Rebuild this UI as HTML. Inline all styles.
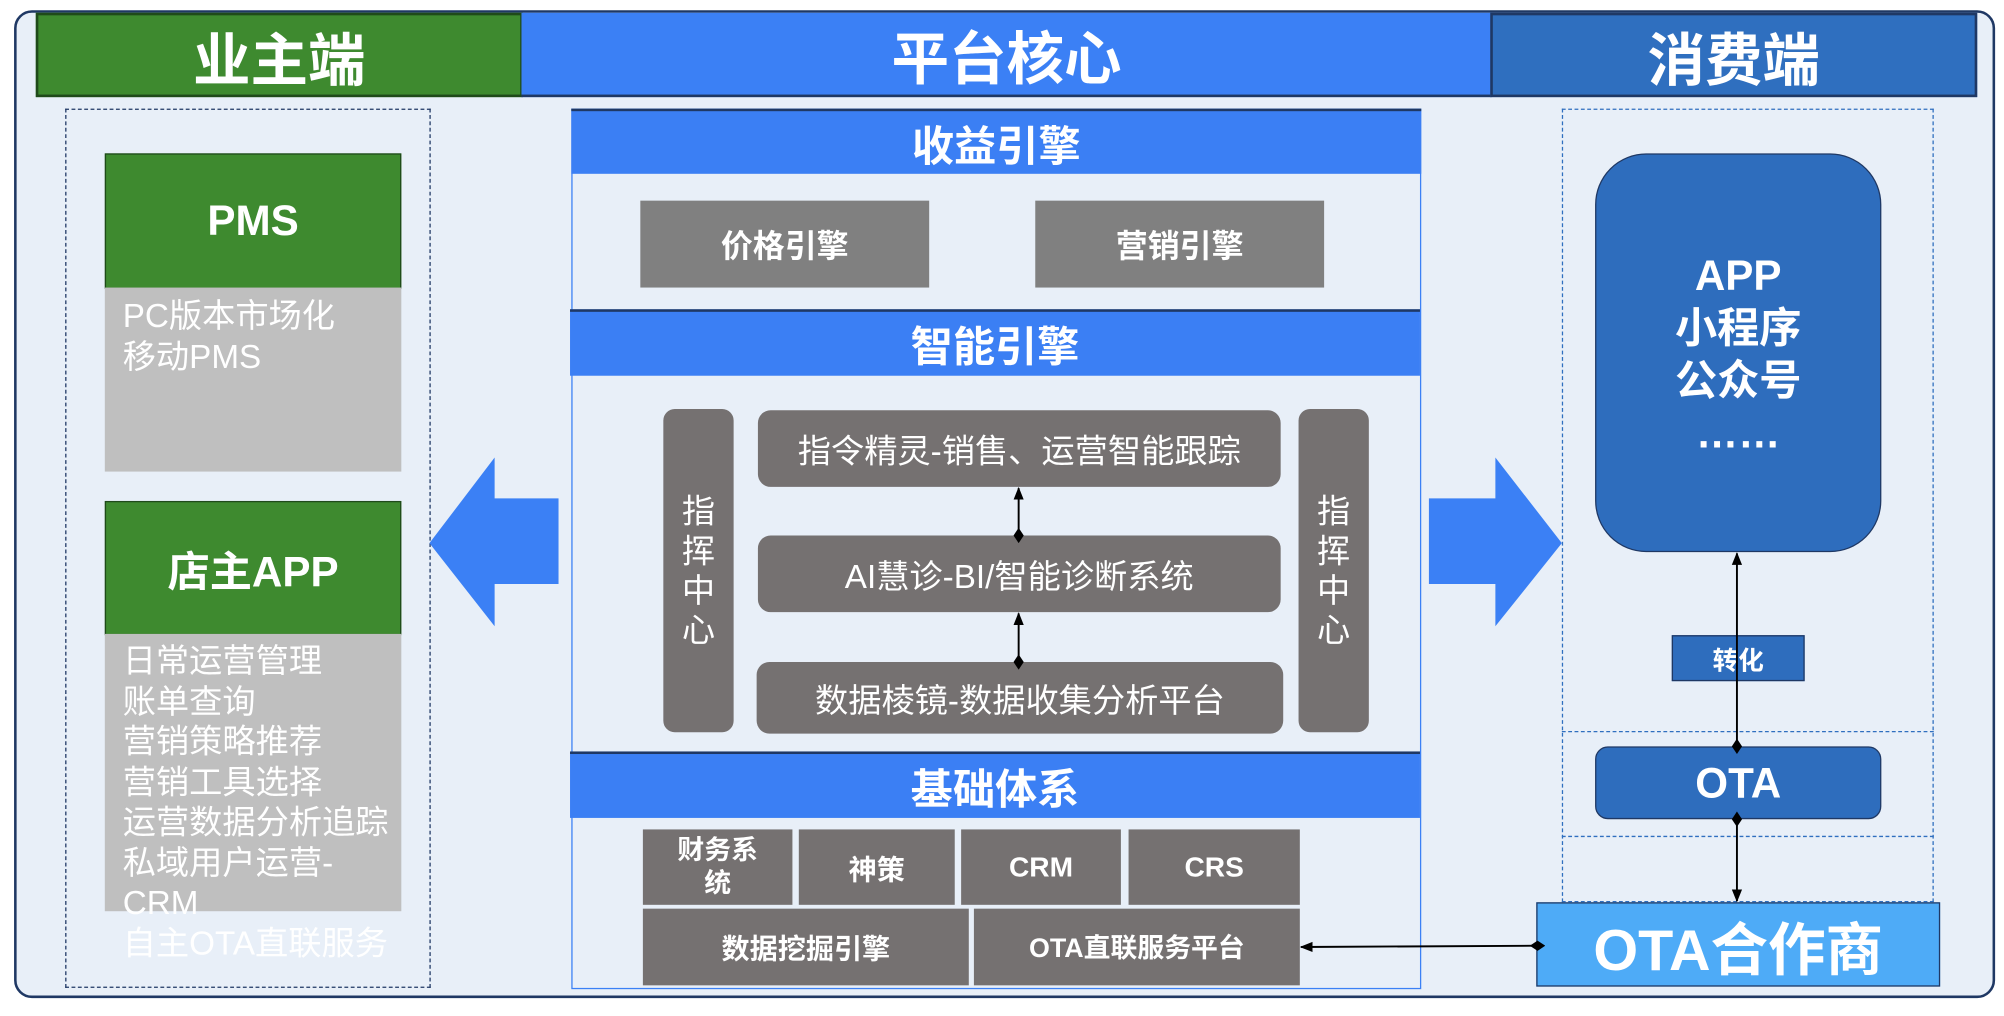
<!DOCTYPE html>
<html><head><meta charset="utf-8"><style>
html,body{margin:0;padding:0;width:2004px;height:1016px;overflow:hidden;background:#fff}
#s{position:absolute;left:0;top:0;width:1568px;height:795px;transform:scale(1.2781,1.278);transform-origin:0 0;font-family:"Liberation Sans","Noto Sans CJK SC",sans-serif}
.a{position:absolute;box-sizing:border-box}
.c{display:flex;align-items:center;justify-content:center;text-align:center;color:#fff;font-weight:bold}
.g{background:#757171;color:#fff}
.hd{background:#3b7ff4;border-top:2px solid #1f3864;font-size:33px}
</style></head><body><div id="s">
<div class="a" style="left:11px;top:8px;width:1550px;height:773px;border:2px solid #1f3864;border-radius:14px;background:#e8eff8"></div>
<div class="a c" style="left:28px;top:10px;width:381px;height:66px;background:#3e8a2f;border:2px solid #1f4a1a;font-size:45px">业主端</div>
<div class="a c" style="left:408px;top:10px;width:759px;height:66px;background:#3b80f5;border-bottom:2px solid #1f3864;font-size:45px">平台核心</div>
<div class="a c" style="left:1166px;top:10px;width:381px;height:66px;background:#2f6fbf;border:2px solid #1f3864;font-size:45px">消费端</div>

<div class="a" style="left:51px;top:85px;width:286px;height:688px;border:1.5px dashed #1f3864"></div>
<div class="a c" style="left:82px;top:120px;width:232px;height:106px;background:#3e8a2f;border:1.5px solid #1f4a1a;font-size:33px">PMS</div>
<div class="a" style="left:82px;top:225px;width:232px;height:144px;background:#bfbfbf;color:#fff;font-size:26px;line-height:32px;padding:6px 0 0 14px">PC版本市场化<br>移动PMS</div>
<div class="a c" style="left:82px;top:392px;width:232px;height:105px;background:#3e8a2f;border:1.5px solid #1f4a1a;font-size:33px">店主APP</div>
<div class="a" style="left:82px;top:496px;width:232px;height:217px;background:#bfbfbf"></div>
<div class="a" style="left:82px;top:502px;width:240px;color:#fff;font-size:26px;line-height:31.5px;padding-left:14px;white-space:nowrap">日常运营管理<br>账单查询<br>营销策略推荐<br>营销工具选择<br>运营数据分析追踪<br>私域用户运营-<br>CRM<br>自主OTA直联服务</div>

<div class="a" style="left:447px;top:85px;width:665px;height:689px;border:1.5px solid #3b80f5;background:#e8eff8"></div>
<div class="a c hd" style="left:447px;top:85px;width:665px;height:51px">收益引擎</div>
<div class="a c" style="left:501px;top:157px;width:226px;height:68px;background:#808080;font-size:25px">价格引擎</div>
<div class="a c" style="left:810px;top:157px;width:226px;height:68px;background:#808080;font-size:25px">营销引擎</div>
<div class="a c hd" style="left:446px;top:242px;width:665px;height:52px">智能引擎</div>
<div class="a c g" style="left:519px;top:320px;width:55px;height:253px;border-radius:9px;font-size:26px;font-weight:normal;line-height:31px">指<br>挥<br>中<br>心</div>
<div class="a c g" style="left:1016px;top:320px;width:55px;height:253px;border-radius:9px;font-size:26px;font-weight:normal;line-height:31px">指<br>挥<br>中<br>心</div>
<div class="a c g" style="left:593px;top:321px;width:409px;height:60px;border-radius:10px;font-size:26px;font-weight:normal">指令精灵-销售、运营智能跟踪</div>
<div class="a c g" style="left:593px;top:419px;width:409px;height:60px;border-radius:10px;font-size:26px;font-weight:normal">AI慧诊-BI/智能诊断系统</div>
<div class="a c g" style="left:592px;top:518px;width:412px;height:56px;border-radius:10px;font-size:26px;font-weight:normal">数据棱镜-数据收集分析平台</div>
<div class="a c hd" style="left:446px;top:588px;width:665px;height:52px">基础体系</div>
<div class="a c g" style="left:503px;top:649px;width:117px;height:59px;font-size:21px;line-height:26px">财务系<br>统</div>
<div class="a c g" style="left:625px;top:649px;width:122px;height:59px;font-size:22px">神策</div>
<div class="a c g" style="left:752px;top:649px;width:125px;height:59px;font-size:22px">CRM</div>
<div class="a c g" style="left:883px;top:649px;width:134px;height:59px;font-size:22px">CRS</div>
<div class="a c g" style="left:503px;top:711px;width:255px;height:60px;font-size:22px">数据挖掘引擎</div>
<div class="a c g" style="left:762px;top:711px;width:255px;height:60px;font-size:21px">OTA直联服务平台</div>

<div class="a" style="left:1222px;top:85px;width:291px;height:621px;border:1.5px dashed #2f6fbf"></div>
<div class="a" style="left:1222px;top:572px;width:291px;height:83px;border-top:1.5px dashed #2f6fbf;border-bottom:1.5px dashed #2f6fbf"></div>
<div class="a c" style="left:1248px;top:120px;width:224px;height:312px;background:#2e6dbd;border:1.5px solid #1f3864;border-radius:40px;font-size:33px;line-height:41px;padding-top:2px">APP<br>小程序<br>公众号<br>……</div>
<div class="a c" style="left:1308px;top:497px;width:104px;height:36px;background:#2e6dbd;border:1.5px solid #1f3864;font-size:20px">转化</div>
<div class="a c" style="left:1248px;top:584px;width:224px;height:57px;background:#2e6dbd;border:1.5px solid #1f3864;border-radius:10px;font-size:33px">OTA</div>
<div class="a c" style="left:1202px;top:706px;width:316px;height:66px;background:#4eabf7;border:1.5px solid #1f3864;font-size:45px">OTA合作商</div>

<svg class="a" style="left:0;top:0" width="1568" height="795">
<defs><marker id="ar" markerWidth="10" markerHeight="10" refX="9" refY="5" orient="auto" markerUnits="userSpaceOnUse"><path d="M0,1 L10,5 L0,9 Z" fill="#000"/></marker>
<marker id="dm" markerWidth="12" markerHeight="10" refX="6" refY="5" orient="auto" markerUnits="userSpaceOnUse"><path d="M0,5 L6,1 L12,5 L6,9 Z" fill="#000"/></marker></defs>
<polygon points="336,425 387,358 387,390 437,390 437,457 387,457 387,490" fill="#3b80f5"/>
<polygon points="1222,425 1170,358 1170,390 1118,390 1118,457 1170,457 1170,490" fill="#3b80f5"/>
<g stroke="#000" stroke-width="1.5" fill="none">
<line x1="797" y1="419" x2="797" y2="382" marker-start="url(#dm)" marker-end="url(#ar)"/>
<line x1="797" y1="518" x2="797" y2="480" marker-start="url(#dm)" marker-end="url(#ar)"/>
<line x1="1359" y1="584" x2="1359" y2="433" marker-start="url(#dm)" marker-end="url(#ar)"/>
<line x1="1359" y1="641" x2="1359" y2="705" marker-start="url(#dm)" marker-end="url(#ar)"/>
<line x1="1203" y1="740" x2="1018" y2="741" marker-start="url(#dm)" marker-end="url(#ar)"/>
</g>
</svg>
</div></body></html>
